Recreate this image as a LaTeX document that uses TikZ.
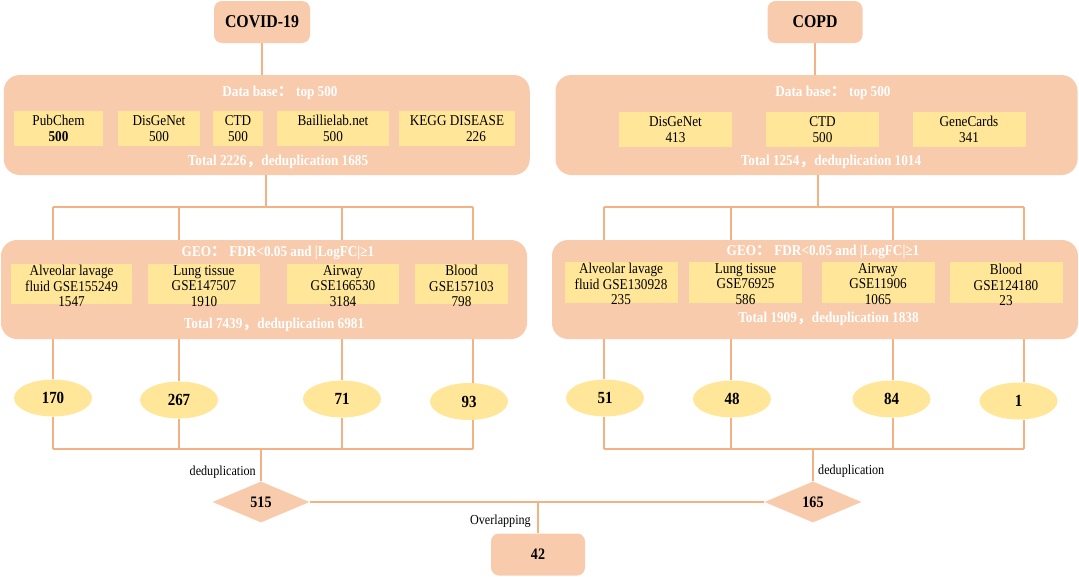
\documentclass[tikz,border=0pt]{standalone}
\usepackage{fontspec}
\setmainfont{Liberation Serif}[FakeStretch=0.88]
\newfontfamily\cjk{Noto Sans CJK SC}
\usetikzlibrary{shapes.geometric}
\definecolor{salmon}{HTML}{F8CBAD}
\definecolor{gold}{HTML}{FFE699}
\definecolor{wirec}{HTML}{F4B183}
\pgfdeclarelayer{bg}
\pgfsetlayers{bg,main}
\begin{document}
\begin{tikzpicture}[x=1pt,y=-1pt,
  topbox/.style={fill=salmon, rounded corners=8pt, minimum height=42pt, inner sep=0pt, font=\fontsize{18}{20}\selectfont\bfseries},
  panel/.style={fill=salmon, rounded corners=16pt, inner sep=0pt},
  ybox/.style={fill=gold, inner sep=0pt, align=center, minimum height=35pt, font=\fontsize{15}{16}\selectfont},
  gbox/.style={fill=gold, inner sep=0pt, minimum height=40pt},
  gtext/.style={inner sep=0pt, align=center, font=\fontsize{15}{15.5}\selectfont},
  wtitle/.style={text=white, inner sep=0pt, font=\fontsize{15}{17}\selectfont\bfseries},
  ell/.style={ellipse, fill=gold, minimum width=78pt, minimum height=37pt, inner sep=0pt, font=\fontsize{17}{19}\selectfont\bfseries},
  dia/.style={diamond, fill=salmon, minimum width=97pt, minimum height=41pt, inner sep=0pt, aspect=2.4, font=\fontsize{16}{18}\selectfont\bfseries},
  lbl/.style={inner sep=0pt, font=\fontsize{13.8}{15}\selectfont},
  wire/.style={draw=wirec, line width=1.6pt}
]
\useasboundingbox (0,0) rectangle (1079,576);

% ---------- top boxes ----------
\node[topbox, minimum width=96pt] (covid) at (262,22) {COVID-19};
\node[topbox, minimum width=95pt] (copd) at (815,22) {COPD};

% ---------- database panels ----------
\node[panel, minimum width=526pt, minimum height=100pt] (db1) at (266.75,125) {};
\node[panel, minimum width=522pt, minimum height=100pt] (db2) at (816.5,125) {};
\node[wtitle] (db1t) at (280,93) {Data base{\cjk ：} top 500};
\node[wtitle] (db2t) at (833,93) {Data base{\cjk ：} top 500};
\node[wtitle] (db1s) at (278,162) {Total 2226{\cjk ，}deduplication 1685};
\node[wtitle] (db2s) at (831,162) {Total 1254{\cjk ，}deduplication 1014};

\node[ybox, minimum width=89pt] (pub) at (58.5,128.5) {PubChem\\\textbf{500}};
\node[ybox, minimum width=82pt] (dis1) at (159,128.5) {DisGeNet\\500};
\node[ybox, minimum width=50pt] (ctd1) at (238,128.5) {CTD\\500};
\node[ybox, minimum width=112pt] (bail) at (333,128.5) {Baillielab.net\\500};
\node[ybox, minimum width=116pt] (kegg) at (457,128.5) {KEGG DISEASE\\\hspace*{38pt}226};

\node[ybox, minimum width=113pt] (dis2) at (675.5,129.5) {DisGeNet\\413};
\node[ybox, minimum width=113pt] (ctd2) at (822.5,129.5) {CTD\\500};
\node[ybox, minimum width=113pt] (gene) at (969,129.5) {GeneCards\\341};

% ---------- GEO panels ----------
\node[panel, minimum width=526pt, minimum height=99pt] (geo1) at (264,289.5) {};
\node[panel, minimum width=526pt, minimum height=99pt] (geo2) at (815,289.5) {};
\node[wtitle] (geo1t) at (278,253) {GEO{\cjk ：} FDR<0.05 and |LogFC|≥1};
\node[wtitle] (geo2t) at (823,252) {GEO{\cjk ：} FDR<0.05 and |LogFC|≥1};
\node[wtitle] (geo1s) at (274,325) {Total 7439{\cjk ，}deduplication 6981};
\node[wtitle] (geo2s) at (828.5,319) {Total 1909{\cjk ，}deduplication 1838};

\node[gbox, minimum width=121pt] (g1a) at (71.5,284) {};
\node[gbox, minimum width=112pt] (g1b) at (204,284) {};
\node[gbox, minimum width=112pt] (g1c) at (343,284) {};
\node[gbox, minimum width=93pt] (g1d) at (461.5,284) {};
\node[gtext] (t1a) at (71.5,286) {Alveolar lavage\\fluid GSE155249\\1547};
\node[gtext] (t1b) at (204,286) {Lung tissue\\GSE147507\\1910};
\node[gtext] (t1c) at (343,286) {Airway\\GSE166530\\3184};
\node[gtext] (t1d) at (461.5,286) {Blood\\GSE157103\\798};

\node[gbox, minimum width=113pt, minimum height=41pt] (g2a) at (621,282.5) {};
\node[gbox, minimum width=113pt, minimum height=41pt] (g2b) at (745.5,282.5) {};
\node[gbox, minimum width=113pt, minimum height=41pt] (g2c) at (878,282.5) {};
\node[gbox, minimum width=113pt, minimum height=41pt] (g2d) at (1006,282.5) {};
\node[gtext] (t2a) at (621,284) {Alveolar lavage\\fluid GSE130928\\235};
\node[gtext] (t2b) at (745.5,284) {Lung tissue\\GSE76925\\586};
\node[gtext] (t2c) at (878,284) {Airway\\GSE11906\\1065};
\node[gtext] (t2d) at (1006,285) {Blood\\GSE124180\\23};

% ---------- ellipses ----------
\node[ell] (e1) at (53,398) {170};
\node[ell] (e2) at (179,400) {267};
\node[ell] (e3) at (342,399) {71};
\node[ell] (e4) at (469,401.5) {93};
\node[ell] (f1) at (605,398) {51};
\node[ell] (f2) at (732,399) {48};
\node[ell] (f3) at (891.5,399) {84};
\node[ell] (f4) at (1018.5,401) {1};

% ---------- diamonds and result ----------
\node[dia] (d1) at (261,502) {515};
\node[dia] (d2) at (813,502) {165};
\node[topbox, minimum width=94pt, minimum height=42pt, font=\fontsize{16}{18}\selectfont\bfseries] (res) at (538,554.5) {42};

\node[lbl, anchor=east] (lab1) at (256,472) {deduplication};
\node[lbl, anchor=west] (lab2) at (818,471) {deduplication};
\node[lbl, anchor=east] (lab3) at (531,521) {Overlapping};

% ---------- bus coordinates ----------
\coordinate (a0) at (266,207);
\coordinate (a1) at (53,207);
\coordinate (a2) at (179,207);
\coordinate (a3) at (342,207);
\coordinate (a4) at (473,207);
\coordinate (b0) at (818,207);
\coordinate (b1) at (604,207);
\coordinate (b2) at (731,207);
\coordinate (b3) at (893,207);
\coordinate (b4) at (1024,207);
\coordinate (q1) at (53,449);
\coordinate (q4) at (473,449);
\coordinate (r1) at (604,449);
\coordinate (r4) at (1024,449);

\begin{pgfonlayer}{bg}
\draw[wire] (covid.south) -- (covid.south |- db1.north);
\draw[wire] (copd.south) -- (copd.south |- db2.north);
\draw[wire] (a0 |- db1.south) -- (a0);
\draw[wire] (b0 |- db2.south) -- (b0);
\draw[wire] (a1) -- (a4);
\draw[wire] (b1) -- (b4);
\foreach \c/\e in {a1/e1,a2/e2,a3/e3,a4/e4}{
  \draw[wire] (\c) -- (\c |- geo1.north);
  \draw[wire] (\c |- geo1.south) -- (\c |- \e.north);
  \draw[wire] (\c |- \e.south) -- (\c |- q1);
}
\foreach \c/\e in {b1/f1,b2/f2,b3/f3,b4/f4}{
  \draw[wire] (\c) -- (\c |- geo2.north);
  \draw[wire] (\c |- geo2.south) -- (\c |- \e.north);
  \draw[wire] (\c |- \e.south) -- (\c |- r1);
}
\draw[wire] (q1) -- (q4);
\draw[wire] (r1) -- (r4);
\draw[wire] (d1.north |- q1) -- (d1.north);
\draw[wire] (d2.north |- r1) -- (d2.north);
\draw[wire] (d1.east) -- (d2.west);
\draw[wire] (res.north |- d1.east) -- (res.north);
\end{pgfonlayer}
\end{tikzpicture}
\end{document}
